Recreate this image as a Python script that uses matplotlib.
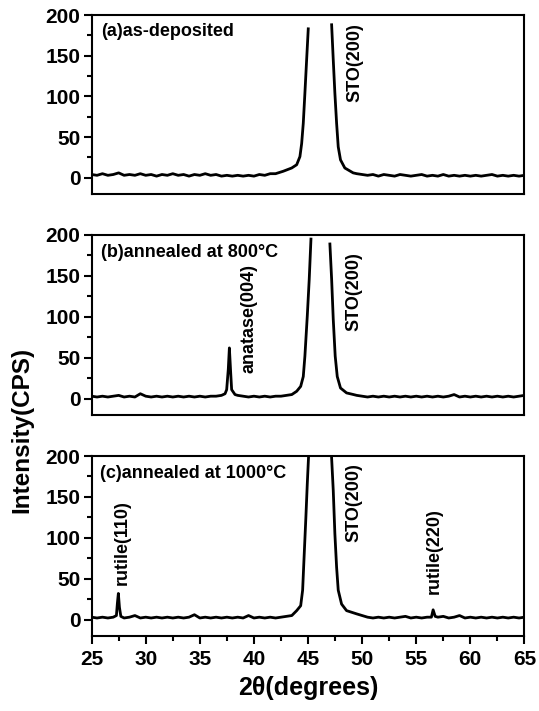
import numpy as np
import matplotlib
matplotlib.use("Agg")
import matplotlib.pyplot as plt
from matplotlib.ticker import MultipleLocator

plt.rcParams['font.family'] = ['Liberation Sans', 'DejaVu Sans']
plt.rcParams['font.weight'] = 'bold'

# (a) as-deposited
a_base1_x = np.arange(25, 42.01, 0.5)
a_base1_y = [4, 3, 5, 3, 4, 6, 3, 4, 3, 5, 3, 4, 2, 4, 3, 5, 3, 4, 2, 4,
             3, 5, 3, 4, 2, 3, 2, 3, 2, 3, 2, 4, 3, 5, 5]
a_left_x = [42.71, 43.49, 43.95, 44.25, 44.41, 44.56, 44.71, 44.87, 45.02]
a_left_y = [8, 12, 16, 26, 42, 67, 104, 145, 183]
a_right_x = [47.18, 47.33, 47.48, 47.64, 47.79, 48.0, 48.4, 49.17]
a_right_y = [188, 145, 104, 67, 38, 22, 12, 6]
a_base2_x = np.arange(49.5, 65.01, 0.5)
a_base2_y = [5, 4, 3, 4, 2, 4, 3, 2, 4, 3, 2, 3, 4, 2, 3, 2, 4, 2, 3, 2,
             3, 2, 3, 2, 3, 4, 2, 3, 2, 3, 2, 3]

# (b) annealed at 800 C
b_base1_x = np.arange(25, 37.01, 0.5)
b_base1_y = [3, 2, 3, 2, 3, 4, 2, 3, 2, 6, 3, 2, 3, 2, 3, 2, 3, 2, 3, 2,
             3, 2, 3, 3, 4]
b_ana_x = [37.33, 37.48, 37.63, 37.73, 37.85, 37.94, 38.25]
b_ana_y = [6, 11, 36, 62, 32, 11, 5]
b_base2_x = np.arange(38.5, 43.51, 0.5)
b_base2_y = [4, 3, 2, 3, 2, 3, 2, 3, 3, 4, 5]
b_left_x = [43.95, 44.32, 44.56, 44.71, 44.93, 45.11, 45.27]
b_left_y = [9, 15, 27, 52, 101, 146, 195]
b_right_x = [47.02, 47.18, 47.33, 47.51, 47.7, 48.0, 48.56, 49.2]
b_right_y = [189, 146, 97, 52, 27, 13, 7, 5]
b_base3_x = np.arange(49.5, 65.01, 0.5)
b_base3_y = [4, 3, 2, 3, 2, 3, 2, 3, 2, 3, 2, 3, 2, 3, 2, 3, 2, 3, 5, 2,
             3, 2, 3, 2, 3, 2, 3, 2, 3, 2, 3, 4]

# (c) annealed at 1000 C
c_base1_x = np.arange(25, 27.01, 0.5)
c_base1_y = [3, 2, 3, 2, 3]
c_ru110_x = [27.29, 27.38, 27.47, 27.57, 27.7]
c_ru110_y = [5, 20, 32, 15, 4]
c_base2_x = np.arange(28, 43.51, 0.5)
c_base2_y = [2, 3, 5, 2, 3, 2, 3, 2, 3, 2, 3, 2, 3, 6, 2, 3, 2, 3, 2, 3,
             2, 3, 2, 5, 2, 3, 2, 3, 2, 3, 4, 5]
c_sto_x = [43.95, 44.32, 44.5, 44.62, 44.8, 44.93, 45.05, 45.3, 46.1,
           46.9, 47.17, 47.33, 47.48, 47.64, 47.79, 48.1, 48.56, 49.5]
c_sto_y = [11, 17, 36, 72, 125, 166, 200, 300, 1500,
           300, 200, 158, 105, 64, 36, 19, 11, 7]
c_base3_x = np.arange(50, 56.01, 0.5)
c_base3_y = [5, 3, 2, 3, 2, 3, 2, 3, 4, 2, 3, 2, 3]
c_ru220_x = [56.4, 56.56, 56.75]
c_ru220_y = [3, 12, 4]
c_base4_x = np.arange(57, 65.01, 0.5)
c_base4_y = [3, 4, 2, 3, 5, 2, 3, 2, 3, 2, 3, 2, 3, 2, 3, 2, 3]

gap = [np.nan]
xa = np.concatenate([a_base1_x, a_left_x, gap, a_right_x, a_base2_x])
ya = np.concatenate([a_base1_y, a_left_y, gap, a_right_y, a_base2_y])
xb = np.concatenate([b_base1_x, b_ana_x, b_base2_x, b_left_x, gap, b_right_x, b_base3_x])
yb = np.concatenate([b_base1_y, b_ana_y, b_base2_y, b_left_y, gap, b_right_y, b_base3_y])
xc = np.concatenate([c_base1_x, c_ru110_x, c_base2_x, c_sto_x, c_base3_x, c_ru220_x, c_base4_x])
yc = np.concatenate([c_base1_y, c_ru110_y, c_base2_y, c_sto_y, c_base3_y, c_ru220_y, c_base4_y])

fig = plt.figure(figsize=(5.39, 7.11), dpi=100)
left = 0.170
width = 0.803
ax_a = fig.add_axes([left, 0.7271, width, 0.2518])
ax_b = fig.add_axes([left, 0.4163, width, 0.2532])
ax_c = fig.add_axes([left, 0.1055, width, 0.2531])

for ax, x, y in [(ax_a, xa, ya), (ax_b, xb, yb), (ax_c, xc, yc)]:
    ax.plot(x, y, color="black", linewidth=2.0)
    ax.set_xlim(25, 65)
    ax.set_ylim(-20, 200)
    ax.yaxis.set_major_locator(MultipleLocator(50))
    ax.yaxis.set_minor_locator(MultipleLocator(25))
    ax.xaxis.set_major_locator(MultipleLocator(5))
    ax.xaxis.set_minor_locator(MultipleLocator(2.5))
    ax.tick_params(axis="y", which="major", direction="out", length=6, width=1.5, labelsize=15, pad=2)
    ax.tick_params(axis="y", which="minor", direction="out", length=3.5, width=1.5)
    ax.tick_params(axis="x", which="major", direction="out", length=6, width=1.5, labelsize=15, pad=4)
    ax.tick_params(axis="x", which="minor", direction="out", length=3.5, width=1.5)
    for sp in ax.spines.values():
        sp.set_linewidth(1.5)
    for lab in ax.get_yticklabels() + ax.get_xticklabels():
        lab.set_fontweight("bold")

for ax in (ax_a, ax_b):
    ax.tick_params(axis="x", which="both", bottom=False, labelbottom=False)

ax_a.text(25.9, 180, "(a)as-deposited", fontsize=13, fontweight="bold", va="center", ha="left")
ax_a.text(49.3, 190, "STO(200)", fontsize=13, fontweight="bold", rotation=90, ha="center", va="top")

ax_b.text(25.9, 179, "(b)annealed at 800°C", fontsize=13, fontweight="bold", va="center", ha="left")
ax_b.text(39.5, 164, "anatase(004)", fontsize=13, fontweight="bold", rotation=90, ha="center", va="top")
ax_b.text(49.2, 179, "STO(200)", fontsize=13, fontweight="bold", rotation=90, ha="center", va="top")

ax_c.text(25.8, 179, "(c)annealed at 1000°C", fontsize=13, fontweight="bold", va="center", ha="left")
ax_c.text(27.8, 146, "rutile(110)", fontsize=13, fontweight="bold", rotation=90, ha="center", va="top")
ax_c.text(49.2, 191, "STO(200)", fontsize=13, fontweight="bold", rotation=90, ha="center", va="top")
ax_c.text(56.7, 136, "rutile(220)", fontsize=13, fontweight="bold", rotation=90, ha="center", va="top")

ax_c.set_xlabel("2θ(degrees)", fontsize=18, fontweight="bold", labelpad=5)
fig.text(0.041, 1 - 430 / 711, "Intensity(CPS)", fontsize=17.5, fontweight="bold",
         rotation=90, ha="center", va="center")

fig.savefig("out.png", dpi=100)
